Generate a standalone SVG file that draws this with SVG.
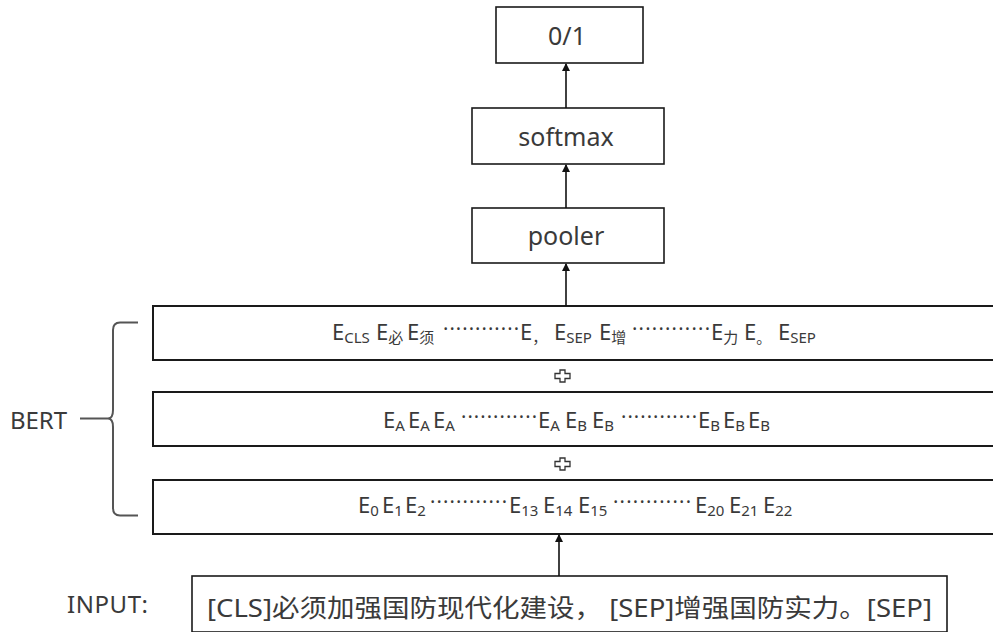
<svg xmlns="http://www.w3.org/2000/svg" width="993" height="632" viewBox="0 0 993 632">
<style>
text{font-family:"Noto Sans","Noto Sans CJK SC",sans-serif;fill:#3a3a3a}
.lbl{font-size:25px;text-anchor:middle}
.box{fill:#fff;stroke:#1a1a1a;stroke-width:1.6}
.emb{fill:#fff;stroke:#1a1a1a;stroke-width:2}
.e{font-size:22px}
.s{font-size:15px}
.d{font-size:20px}
.con{stroke:#111;stroke-width:1.6;fill:none}
.plus{fill:#fff;stroke:#333;stroke-width:1.3}
</style>
<defs>
<marker id="ah" viewBox="0 0 8 10" refX="7" refY="5" markerWidth="8" markerHeight="10" markerUnits="userSpaceOnUse" orient="auto">
<path d="M0,1 L8,5 L0,9 z" fill="#111"/>
</marker>
</defs>
<rect width="993" height="632" fill="#fff"/>
<g id="out"><rect class="box" x="496" y="7" width="147" height="56"/><text class="lbl" x="567" y="45">0/1</text></g>
<g id="softmax"><rect class="box" x="472" y="108" width="192" height="56"/><text class="lbl" x="566" y="146">softmax</text></g>
<g id="pooler"><rect class="box" x="472" y="208" width="192" height="55"/><text class="lbl" x="566" y="245">pooler</text></g>
<g id="tok">
<rect class="emb" x="153" y="306" width="845" height="54"/>
<text class="e" x="332" y="340">E<tspan class="s" dy="3">CLS</tspan></text>
<text class="e" x="376" y="340">E<tspan class="s" dy="3">必</tspan></text>
<text class="e" x="407" y="340">E<tspan class="s" dy="3">须</tspan></text>
<text class="d" x="443" y="336" textLength="76">············</text>
<text class="e" x="520" y="340">E<tspan class="s" dy="3">，</tspan></text>
<text class="e" x="554" y="340">E<tspan class="s" dy="3">SEP</tspan></text>
<text class="e" x="599" y="340">E<tspan class="s" dy="3">增</tspan></text>
<text class="d" x="632" y="336" textLength="78">············</text>
<text class="e" x="711" y="340">E<tspan class="s" dy="3">力</tspan></text>
<text class="e" x="744" y="340">E<tspan class="s" dy="3">。</tspan></text>
<text class="e" x="778" y="340">E<tspan class="s" dy="3">SEP</tspan></text>
</g>
<g id="seg">
<rect class="emb" x="153" y="392" width="845" height="54"/>
<text class="e" x="383" y="428">E<tspan class="s" dy="3">A</tspan></text>
<text class="e" x="408" y="428">E<tspan class="s" dy="3">A</tspan></text>
<text class="e" x="433" y="428">E<tspan class="s" dy="3">A</tspan></text>
<text class="d" x="461" y="424" textLength="76">············</text>
<text class="e" x="538" y="428">E<tspan class="s" dy="3">A</tspan></text>
<text class="e" x="565" y="428">E<tspan class="s" dy="3">B</tspan></text>
<text class="e" x="592" y="428">E<tspan class="s" dy="3">B</tspan></text>
<text class="d" x="621" y="424" textLength="76">············</text>
<text class="e" x="698" y="428">E<tspan class="s" dy="3">B</tspan></text>
<text class="e" x="723" y="428">E<tspan class="s" dy="3">B</tspan></text>
<text class="e" x="748" y="428">E<tspan class="s" dy="3">B</tspan></text>
</g>
<g id="pos">
<rect class="emb" x="153" y="480" width="845" height="54"/>
<text class="e" x="358" y="513">E<tspan class="s" dy="3">0</tspan></text>
<text class="e" x="382" y="513">E<tspan class="s" dy="3">1</tspan></text>
<text class="e" x="405" y="513">E<tspan class="s" dy="3">2</tspan></text>
<text class="d" x="430" y="509" textLength="77">············</text>
<text class="e" x="509" y="513">E<tspan class="s" dy="3">13</tspan></text>
<text class="e" x="543" y="513">E<tspan class="s" dy="3">14</tspan></text>
<text class="e" x="578" y="513">E<tspan class="s" dy="3">15</tspan></text>
<text class="d" x="613" y="509" textLength="78">············</text>
<text class="e" x="695" y="513">E<tspan class="s" dy="3">20</tspan></text>
<text class="e" x="729" y="513">E<tspan class="s" dy="3">21</tspan></text>
<text class="e" x="763" y="513">E<tspan class="s" dy="3">22</tspan></text>
</g>
<g id="input">
<rect class="box" x="192" y="576" width="755" height="56"/>
<text x="207" y="617" font-size="25" textLength="725" lengthAdjust="spacingAndGlyphs">[CLS]必须加强国防现代化建设， [SEP]增强国防实力。[SEP]</text>
</g>
<g id="input-label"><text x="67" y="613" font-size="24" textLength="81">INPUT:</text></g>
<g id="bert">
<text x="10" y="429" font-size="24" textLength="57">BERT</text>
<path d="M80,418.5 H108 M138,322.5 H120 Q113,322.5 113,330 V410 Q113,418.5 108,418.5 Q113,418.5 113,427 V508 Q113,515.5 120,515.5 H138" fill="none" stroke="#555" stroke-width="2"/>
</g>
<g id="plus1"><path class="plus" d="M555,373.5 H560 V370 H565 V373.5 H570 V378.5 H565 V382 H560 V378.5 H555 Z"/></g>
<g id="plus2"><path class="plus" d="M555,461.5 H560 V458 H565 V461.5 H570 V466.5 H565 V470 H560 V466.5 H555 Z"/></g>
<g id="connectors">
<line class="con" x1="566" y1="108" x2="566" y2="64" marker-end="url(#ah)"/>
<line class="con" x1="566" y1="208" x2="566" y2="165" marker-end="url(#ah)"/>
<line class="con" x1="566" y1="306" x2="566" y2="264" marker-end="url(#ah)"/>
<line class="con" x1="559" y1="576" x2="559" y2="535" marker-end="url(#ah)"/>
</g>
</svg>
